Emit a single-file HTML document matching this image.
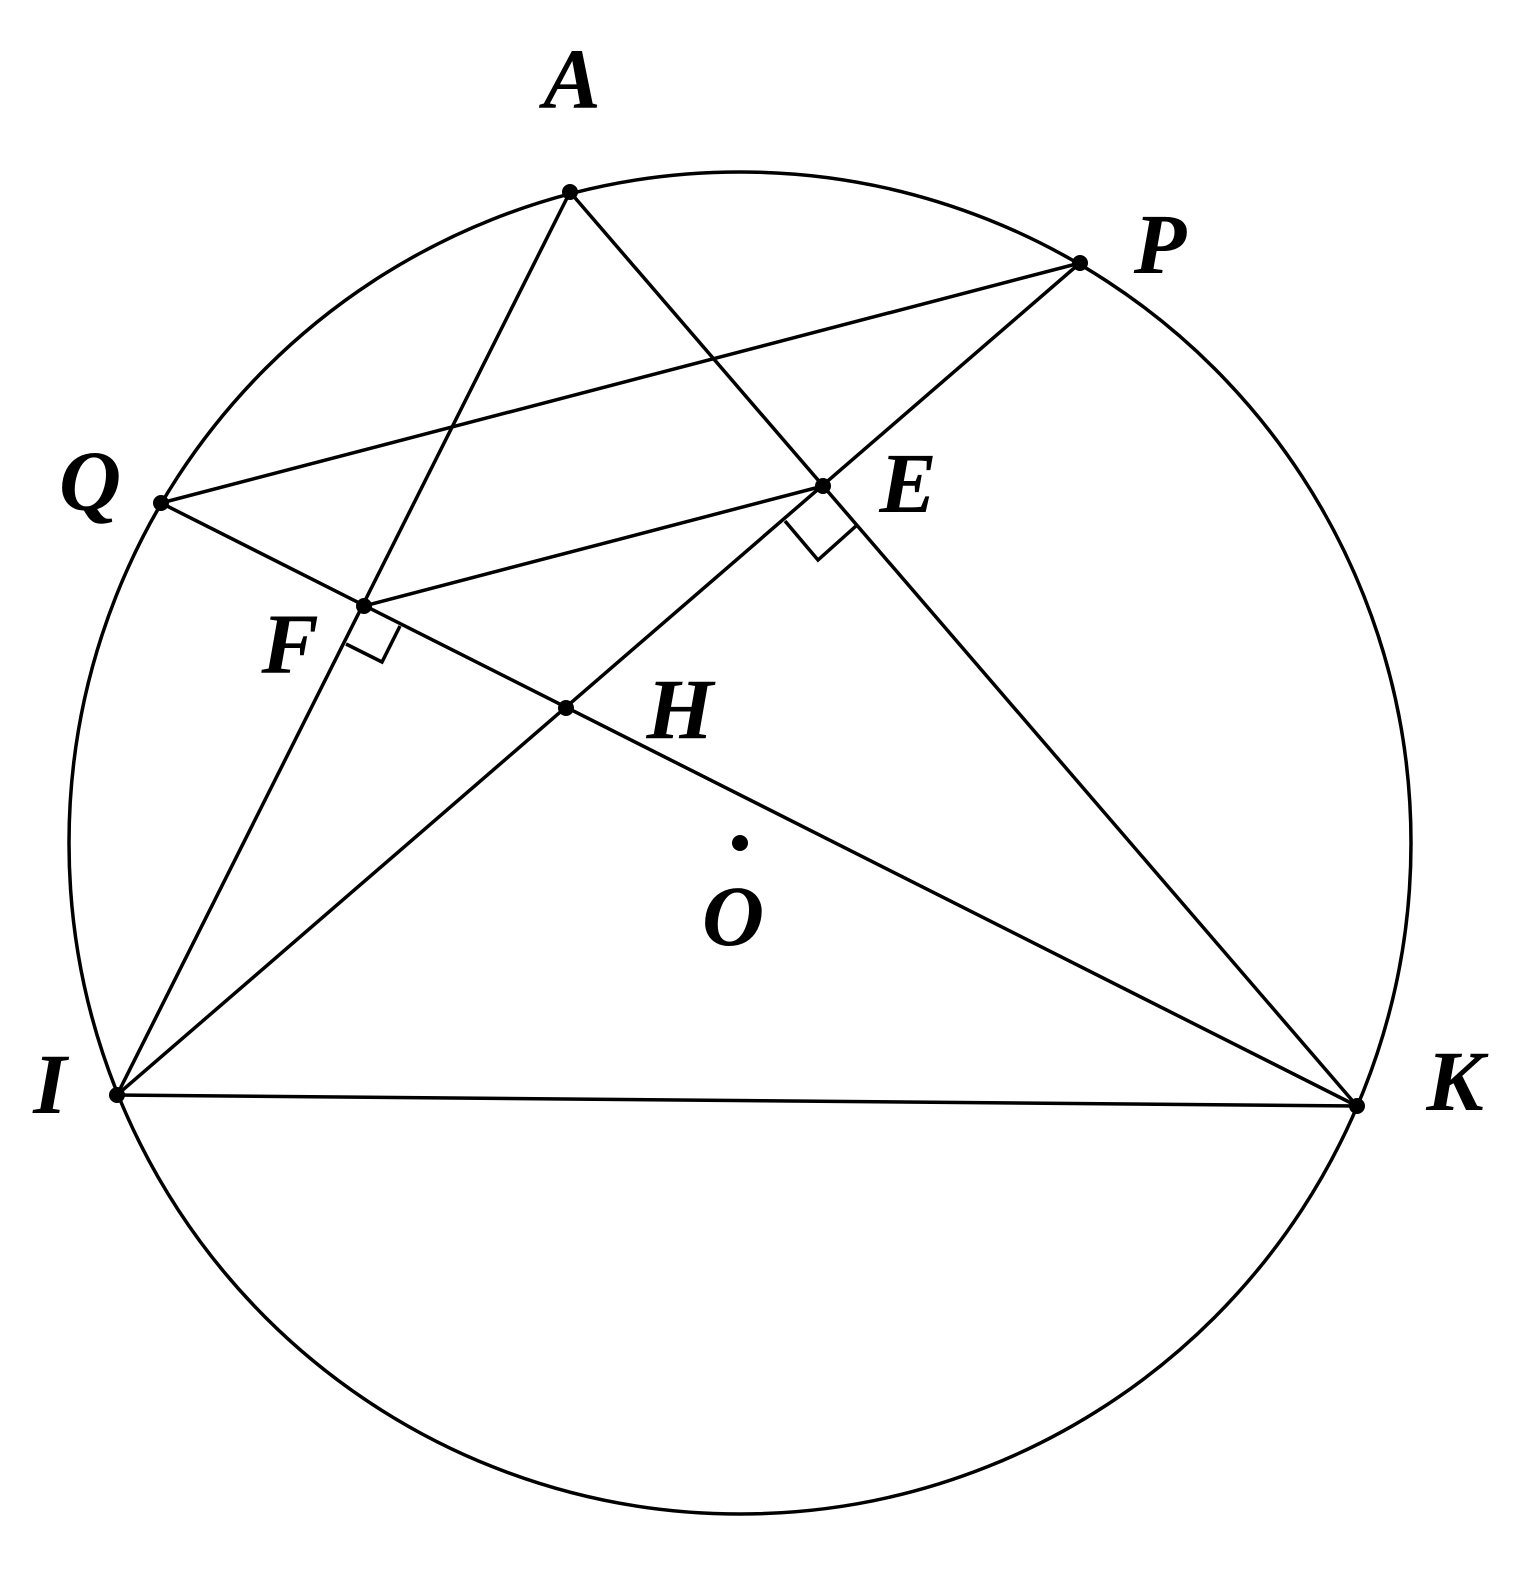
<!DOCTYPE html>
<html><head><style>html,body{margin:0;padding:0;background:#fff}</style></head><body>
<svg width="1536" height="1584" viewBox="0 0 1536 1584" xmlns="http://www.w3.org/2000/svg">
<g fill="none" stroke="#000" stroke-width="3.5">
<circle cx="740" cy="843" r="671"/>
<line x1="570" y1="192" x2="117" y2="1095"/>
<line x1="570" y1="192" x2="1357" y2="1106"/>
<line x1="1080" y1="263" x2="161" y2="503"/>
<line x1="1080" y1="263" x2="117" y2="1095"/>
<line x1="161" y1="503" x2="1357" y2="1106"/>
<line x1="823" y1="486" x2="364" y2="606"/>
<line x1="117" y1="1095" x2="1357" y2="1106"/>
<polyline points="785,521 818,560 856,526"/>
<polyline points="346,644 382,662 400,626"/>
</g>
<g fill="#000">
<circle cx="570" cy="192" r="8"/><circle cx="1080" cy="263" r="8"/>
<circle cx="161" cy="503" r="8"/><circle cx="823" cy="486" r="8"/>
<circle cx="364" cy="606" r="8"/><circle cx="566" cy="708" r="8"/>
<circle cx="117" cy="1095" r="8"/><circle cx="1357" cy="1106" r="8"/>
<circle cx="740" cy="843" r="8"/>
</g>
<g font-family="Liberation Serif, serif" font-style="italic" font-weight="bold" font-size="86" text-anchor="middle">
<text x="572" y="108">A</text>
<text x="1160" y="273">P</text>
<text x="90" y="510">Q</text>
<text x="908" y="512">E</text>
<text x="290" y="673">F</text>
<text x="680" y="738">H</text>
<text x="733" y="945">O</text>
<text x="50" y="1113">I</text>
<text x="1455" y="1110">K</text>
</g>
</svg>
</body></html>
